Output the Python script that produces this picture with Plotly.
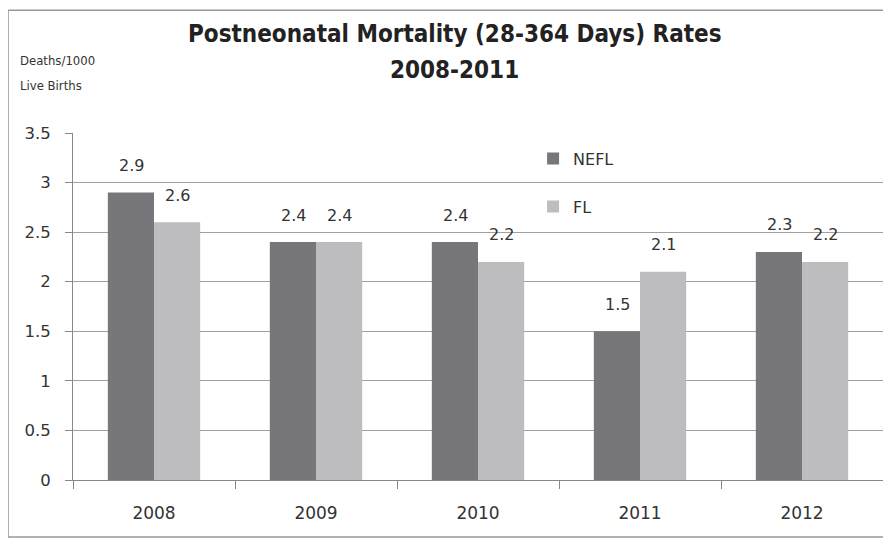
import plotly.graph_objects as go

years = ['2008', '2009', '2010', '2011', '2012']
nefl = [2.9, 2.4, 2.4, 1.5, 2.3]
fl = [2.6, 2.4, 2.2, 2.1, 2.2]
y_ticks = [0, 0.5, 1, 1.5, 2, 2.5, 3, 3.5]
y_tick_text = ['0', '0.5', '1', '1.5', '2', '2.5', '3', '3.5']

cond = 'DejaVu Sans Condensed, Noto Sans, sans-serif'
label_font = dict(family='DejaVu Sans', size=16, color='#333333')

fig = go.Figure()
fig.add_trace(go.Bar(
    x=years, y=nefl, name='NEFL', legendgroup='a',
    marker=dict(color='#77777b', line=dict(width=0)),
))
fig.add_trace(go.Bar(
    x=years, y=fl, name='FL', legendgroup='b',
    marker=dict(color='#bdbdc0', line=dict(width=0)),
))

# value labels above each bar
labels = []
for vals, shift in ((nefl, -23), (fl, 23)):
    for i, v in enumerate(vals):
        labels.append(dict(x=i, y=v, xref='x', yref='y', text=f'{v:.1f}',
                           showarrow=False, xshift=shift, yshift=27,
                           font=label_font))

fig.update_layout(
    width=883, height=532,
    margin=dict(l=65, r=8, t=125, b=60),
    paper_bgcolor='white', plot_bgcolor='white',
    barmode='group', bargap=0.43, bargroupgap=0,
    showlegend=True,
    legend=dict(x=0.568, y=0.975, xanchor='left', yanchor='top',
                traceorder='grouped', tracegroupgap=24,
                bgcolor='rgba(0,0,0,0)', font=dict(family='DejaVu Sans', size=16, color='#333333')),
    font=dict(family='DejaVu Sans', size=13, color='#333333'),
    xaxis=dict(type='category', showline=True, linecolor='#888888', linewidth=1,
               ticks='outside', tickson='boundaries', ticklen=8, tickcolor='#888888',
               ticklabelstandoff=18,
               tickfont=dict(family='DejaVu Sans', size=17, color='#333333'),
               showgrid=False),
    yaxis=dict(range=[0, 3.5], tickvals=y_ticks, ticktext=y_tick_text,
               showline=True, linecolor='#888888', linewidth=1,
               ticks='outside', ticklen=7, tickcolor='#888888',
               ticklabelstandoff=11,
               tickfont=dict(family='DejaVu Sans', size=16.5, color='#333333'),
               showgrid=True, gridcolor='#a0a0a0', gridwidth=1, zeroline=False),
    annotations=labels + [
        dict(text='<b>Postneonatal Mortality (28-364 Days) Rates</b>', x=0.4716, y=(480 - 34) / 347,
             xref='paper', yref='paper', showarrow=False, yanchor='middle',
             font=dict(family=cond, size=24, color='#222222')),
        dict(text='<b>2008-2011</b>', x=0.4716, y=(480 - 70) / 347,
             xref='paper', yref='paper', showarrow=False, yanchor='middle',
             font=dict(family=cond, size=24, color='#222222')),
        dict(text='Deaths/1000', x=-0.068, y=(480 - 60) / 347,
             xref='paper', yref='paper', showarrow=False, xanchor='left', yanchor='middle',
             font=dict(family=cond, size=13, color='#333333')),
        dict(text='Live Births', x=-0.068, y=(480 - 85) / 347,
             xref='paper', yref='paper', showarrow=False, xanchor='left', yanchor='middle',
             font=dict(family=cond, size=13, color='#333333')),
    ],
    shapes=[dict(type='rect', xref='paper', yref='paper',
                 x0=-0.0802, x1=1.02, y0=-0.164, y1=1.354,
                 line=dict(color='#999999', width=1.5))],
)

fig.write_html('out.html')
